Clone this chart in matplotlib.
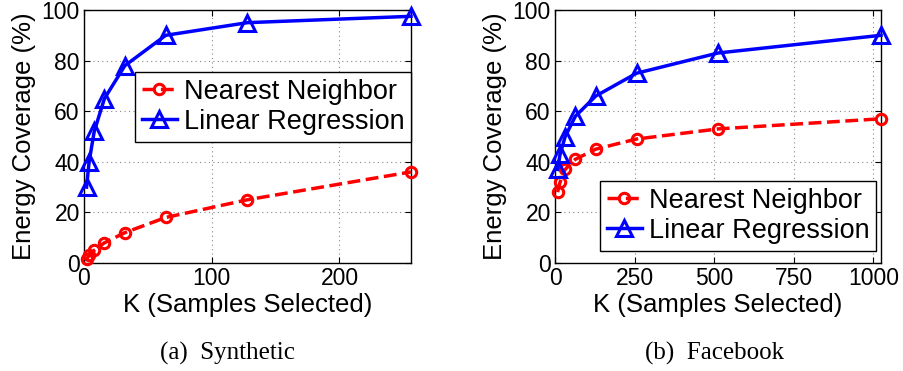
import matplotlib
matplotlib.use("Agg")
import matplotlib.pyplot as plt

# Data
k_syn = [2, 4, 8, 16, 32, 64, 128, 256]
nn_syn = [1.5, 3, 5, 8, 12, 18, 25, 36]
lr_syn = [30, 40, 52, 65, 78, 90, 95, 97.5]

k_fb = [8, 16, 32, 64, 128, 256, 512, 1024]
nn_fb = [28, 32, 37, 41, 45, 49, 53, 57]
lr_fb = [37, 43, 50, 58, 66, 75, 83, 90]

xticks_syn = [0, 100, 200]
xticks_fb = [0, 250, 500, 750, 1000]
yticks = [0, 20, 40, 60, 80, 100]

labels = ["Nearest Neighbor", "Linear Regression"]
captions = ["(a)  Synthetic", "(b)  Facebook"]
xlabel = "K (Samples Selected)"
ylabel = "Energy Coverage (%)"

plt.rcParams['font.family'] = ['Liberation Sans', 'DejaVu Sans']

fig = plt.figure(figsize=(9.04, 3.71), dpi=100)

H = 371.0
W = 904.0
bottom = 1 - 263 / H
height = 253 / H
ax1 = fig.add_axes([84 / W, bottom, 327 / W, height])
ax2 = fig.add_axes([555 / W, bottom, 326 / W, height])

def style(ax, k, nn, lr, xmax, xticks, leg_anchor):
    ax.plot(k, nn, '--', color='#ff0000', lw=2.5, marker='o', ms=7.5,
            mfc='none', mec='#ff0000', mew=2.2, label=labels[0], zorder=3,
            clip_on=False)
    ax.plot(k, lr, '-', color='#0000ff', lw=2.5, marker='^', ms=11,
            mfc='none', mec='#0000ff', mew=2.2, label=labels[1], zorder=4,
            clip_on=False)
    ax.set_xlim(0, xmax)
    ax.set_ylim(0, 100)
    ax.set_xticks(xticks)
    ax.set_yticks(yticks)
    ax.grid(True, linestyle=(0, (1, 3)), color='#888888', lw=0.8)
    ax.tick_params(direction='in', top=True, right=True, labelsize=16.5,
                   length=4, width=0.8, pad=3)
    for s in ax.spines.values():
        s.set_linewidth(1.0)
    ax.set_xlabel(xlabel, fontsize=18.5, labelpad=2)
    ax.set_ylabel(ylabel, fontsize=18.5, labelpad=4)
    leg = ax.legend(loc='upper right', bbox_to_anchor=leg_anchor,
                    borderaxespad=0, fontsize=19.5, handlelength=1.3,
                    handletextpad=0.25, borderpad=0.25, labelspacing=0.15,
                    fancybox=False, framealpha=1, edgecolor='black')
    leg.get_frame().set_linewidth(1.0)

style(ax1, k_syn, nn_syn, lr_syn, 256, xticks_syn, (1.0, 0.755))
style(ax2, k_fb, nn_fb, lr_fb, 1024, xticks_fb, (0.985, 0.324))

fig.text(227 / W, 1 - 353 / H, captions[0], ha='center', va='center',
         fontsize=18, family=['Liberation Serif', 'DejaVu Serif'])
fig.text(715 / W, 1 - 353 / H, captions[1], ha='center', va='center',
         fontsize=18, family=['Liberation Serif', 'DejaVu Serif'])

fig.savefig('out.png', dpi=100)
